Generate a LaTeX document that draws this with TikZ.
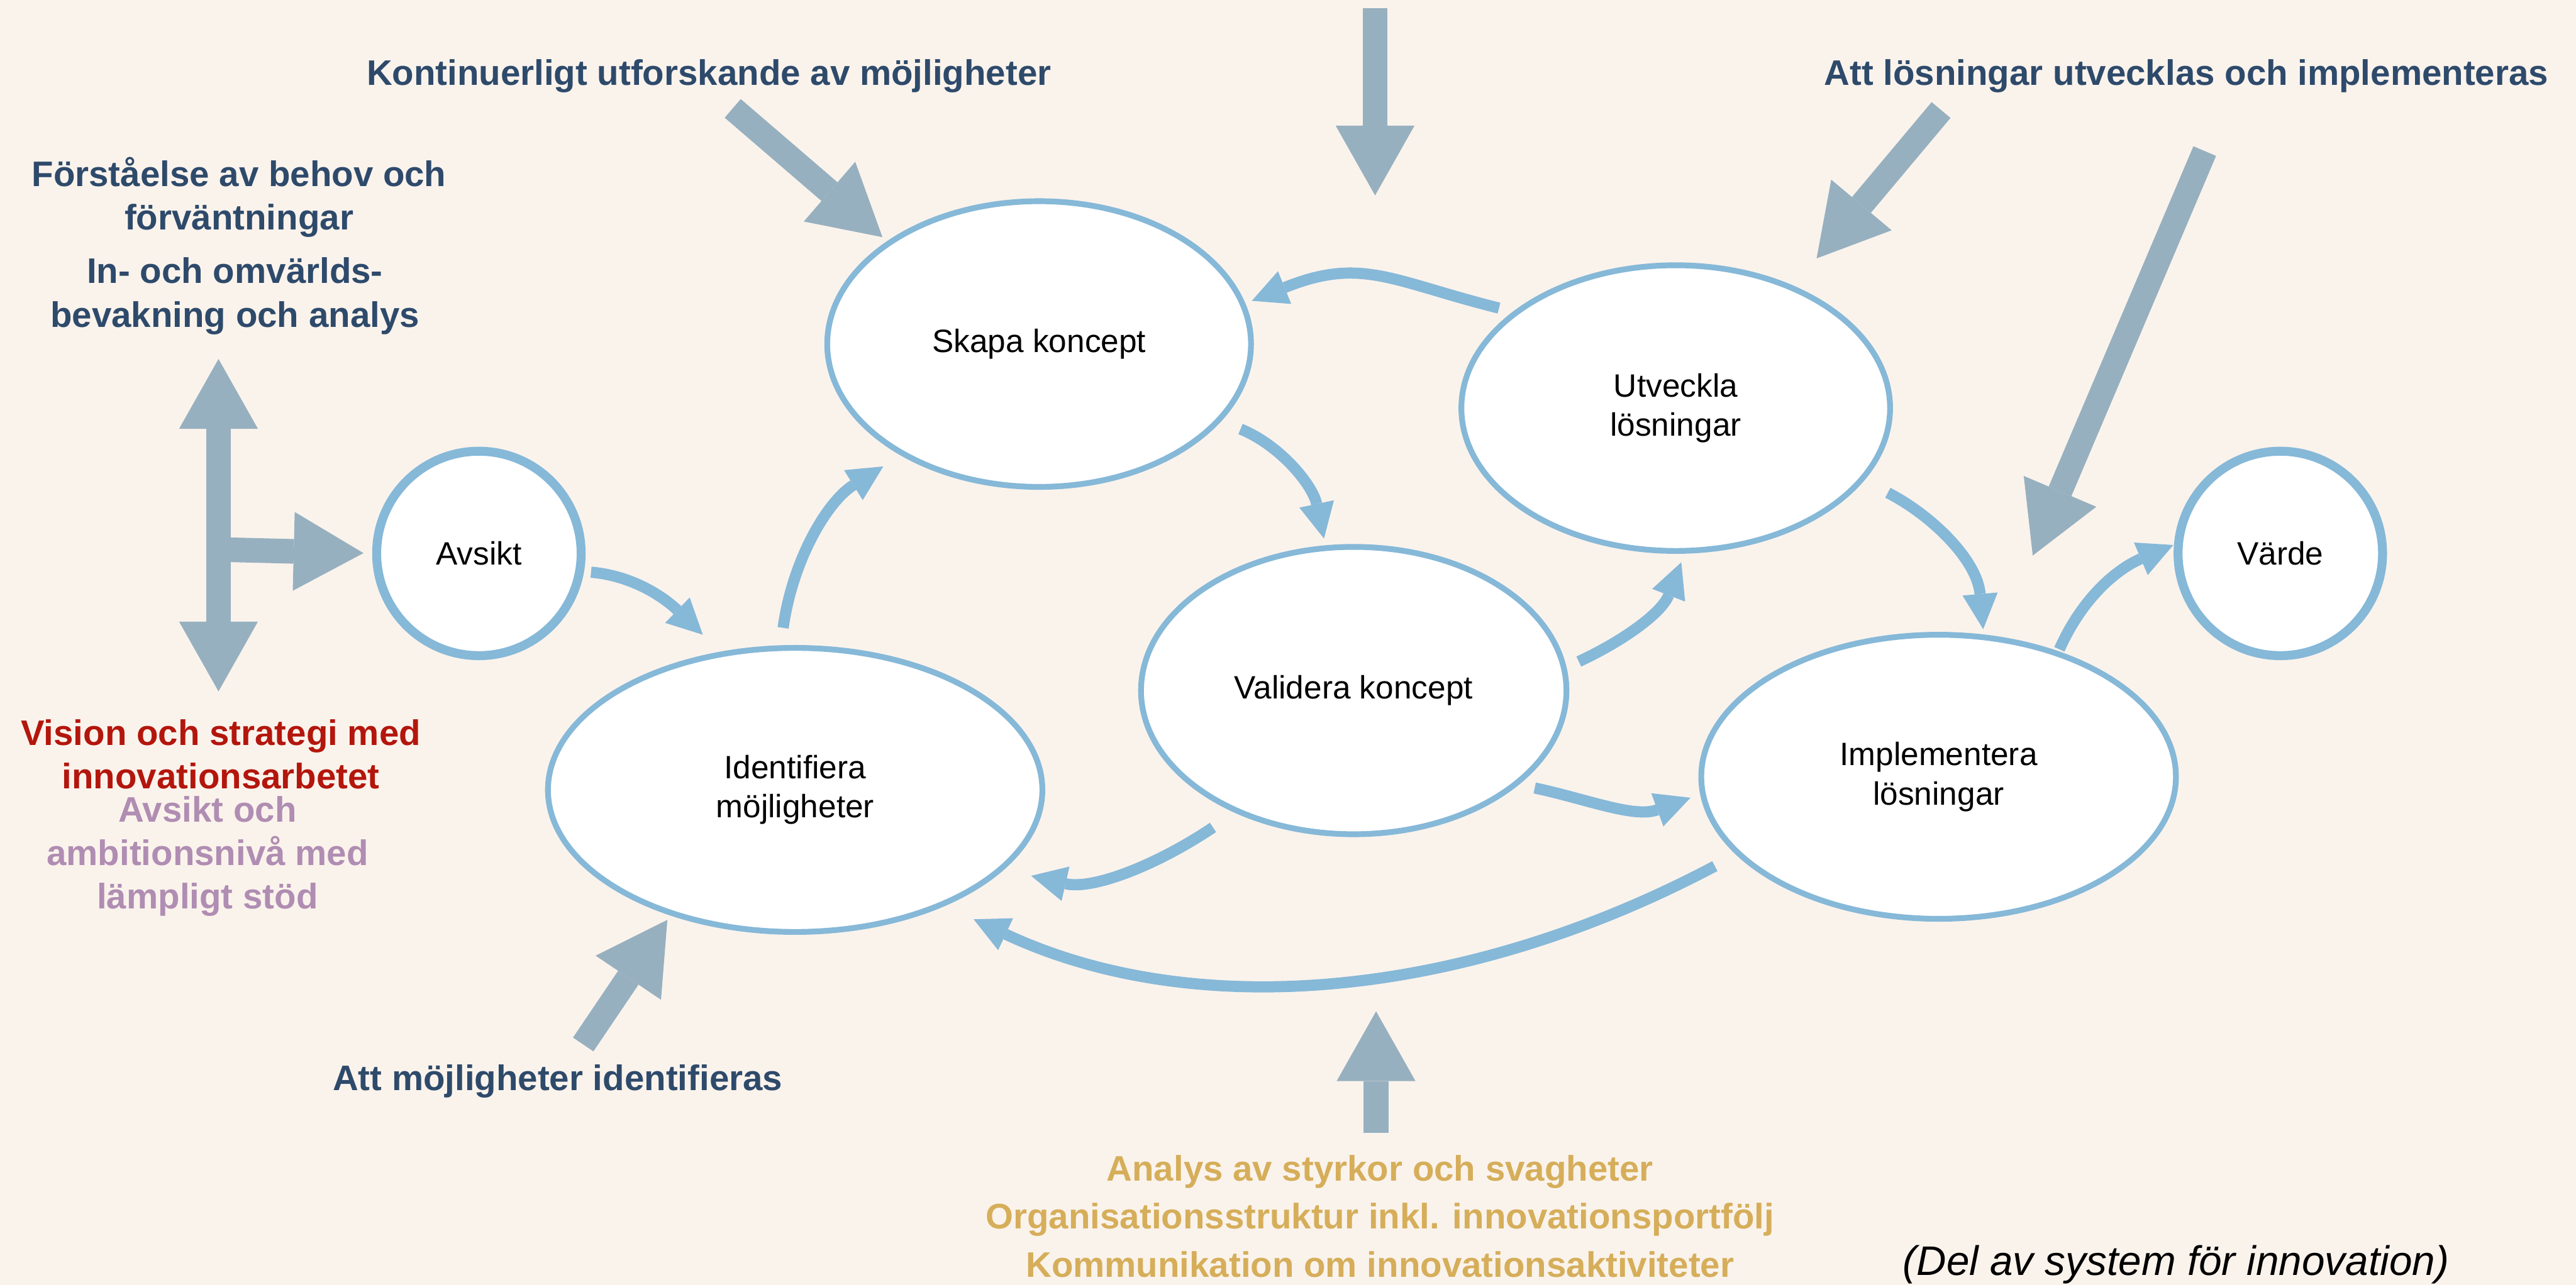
\documentclass[tikz,border=0pt]{standalone}
\usepackage{fontspec}
\setmainfont{Liberation Sans}
\usetikzlibrary{shapes.geometric, arrows.meta}

\definecolor{bgcream}{HTML}{FAF3EC}
\definecolor{flowblue}{HTML}{86B8D8}
\definecolor{feedgray}{HTML}{97B0BF}
\definecolor{navy}{HTML}{2E4A6B}
\definecolor{visionred}{HTML}{B3160C}
\definecolor{ambpurple}{HTML}{B08DB2}
\definecolor{goldtxt}{HTML}{D6AE5A}

\newcommand{\procfont}{\fontsize{11.2}{13.6}\selectfont}
\newcommand{\lblfont}{\fontsize{12.3}{15.1}\selectfont\bfseries}

\tikzset{
    flowtip/.tip={Triangle[length=0.43cm, width=0.43cm, line width=0pt]},
    feedtip/.tip={Triangle[length=0.85cm, width=0.96cm, line width=0pt]}
}

\begin{document}
\begin{tikzpicture}[x=0.02cm, y=0.02cm,
    proc/.style={ellipse, draw=flowblue, line width=2pt, fill=white, font=\procfont, align=center, inner sep=0pt, outer sep=0pt},
    endpt/.style={circle, draw=flowblue, line width=3.1pt, fill=white, font=\procfont, minimum size=2.49cm, inner sep=0pt, outer sep=0pt},
    flowarrow/.style={draw=flowblue, line width=0.136cm, -flowtip},
    feed/.style={draw=feedgray, line width=0.3cm, -feedtip},
    lbl/.style={font=\lblfont, text=navy, align=center}]

    \fill[bgcream] (0,0) rectangle (1568,-782.47);
    \useasboundingbox (0,0) rectangle (1568,-782.47);

    % process steps
    \node[proc, minimum width=5.16cm, minimum height=3.48cm] (skapa) at (632.5,-209.5) {Skapa koncept};
    \node[proc, minimum width=5.22cm, minimum height=3.48cm] (utv) at (1020,-248.5) {Utveckla\\lösningar};
    \node[proc, minimum width=5.18cm, minimum height=3.5cm] (valid) at (824,-420.5) {Validera koncept};
    \node[proc, minimum width=6.02cm, minimum height=3.46cm] (ident) at (484,-481) {Identifiera\\möjligheter};
    \node[proc, minimum width=5.78cm, minimum height=3.46cm] (impl) at (1180,-473) {Implementera\\lösningar};
    \node[endpt] (avsikt) at (291.5,-337) {Avsikt};
    \node[endpt] (varde) at (1388,-337) {Värde};

    % texts
    \node[lbl] (utforska) at (431.5,-46.3) {Kontinuerligt utforskande av möjligheter};
    \node[lbl] (losningar) at (1330.8,-46.3) {Att lösningar utvecklas och implementeras};
    \node[lbl] (forstaelse) at (145.5,-120.1) {Förståelse av behov och\\förväntningar};
    \node[lbl] (omvarld) at (143,-180.3) {In- och omvärlds-\\bevakning och analys};
    \node[lbl, text=visionred] (vision) at (134.4,-459.2) {Vision och strategi med\\innovationsarbetet};
    \node[lbl, text=ambpurple] (ambition) at (126.3,-521.4) {Avsikt och\\ambitionsnivå med\\lämpligt stöd};
    \node[lbl] (identlbl) at (339.4,-658.5) {Att möjligheter identifieras};
    \node[lbl, text=goldtxt, font=\fontsize{12.3}{16.7}\selectfont\bfseries] (analys) at (840,-740.6)
        {Analys av styrkor och svagheter\\Organisationsstruktur inkl. innovationsportfölj\\Kommunikation om innovationsaktiviteter};
    \node[font=\fontsize{14.3}{17}\selectfont\itshape] (delav) at (1324.5,-769.9) {(Del av system för innovation)};

    % inputs
    \coordinate (topin) at (837,-5);
    \coordinate (topend) at (837,-119);
    \coordinate (kontin) at (446,-66);
    \coordinate (losin) at (1181.5,-67);
    \coordinate (implin) at (1342,-92);
    \coordinate (implend) at (1237.3,-338.3);
    \coordinate (idin) at (355,-636);
    \coordinate (botin) at (837.6,-690);
    \coordinate (botend) at (837.6,-615.8);
    \coordinate (vtop) at (133,-218.6);
    \coordinate (vbot) at (133,-421);
    \coordinate (vmid) at (133,-334.6);

    \draw[feed] (topin) -- (topend);
    \draw[feed] (botin) -- (botend);
    \draw[feed] (implin) -- (implend);
    \draw[feed, shorten >=0.11cm] (kontin) -- (skapa.146);
    \draw[feed, shorten >=0.47cm] (losin) -- (utv.46);
    \draw[feed, shorten >=0.1cm] (idin) -- (ident.-135);
    \draw[feed, feedtip-feedtip] (vtop) -- (vbot);
    \draw[feed, shorten >=0.16cm] (vmid) -- (avsikt.180);

    % cycle
    \draw[flowarrow, shorten <=0.14cm, shorten >=0.34cm] (avsikt.-10) to[out=-5, in=136] (ident.118);
    \draw[flowarrow, shorten <=0.25cm, shorten >=0.29cm] (ident.96) to[out=82, in=212] (skapa.-141);
    \draw[flowarrow, shorten <=0.29cm, shorten >=0.12cm] (skapa.-23) to[out=-22, in=102] (valid.101);
    \draw[flowarrow, shorten <=0.22cm, shorten >=0.12cm] (utv.149) to[out=166, in=22, looseness=1.2] (skapa.11);
    \draw[flowarrow, shorten <=0.2cm, shorten >=0.15cm] (valid.6) to[out=25, in=249] (utv.-86);
    \draw[flowarrow, shorten <=0.36cm, shorten >=0.1cm] (utv.-21) to[out=-27, in=95] (impl.72);
    \draw[flowarrow, shorten <=0.24cm, shorten >=0.16cm] (valid.-30) to[out=-12, in=200] (impl.-176);
    \draw[flowarrow, shorten <=0.36cm, shorten >=0.38cm] (valid.-134) to[out=-146, in=-13] (ident.-21);
    \draw[flowarrow, shorten <=0.33cm, shorten >=0.43cm] (impl.-159) .. controls +(-168,-89) and +(154,-72) .. (ident.-38);
    \draw[flowarrow, shorten <=0.06cm, shorten >=0.07cm] (impl.46) to[out=66, in=203] (varde.174);
\end{tikzpicture}
\end{document}
